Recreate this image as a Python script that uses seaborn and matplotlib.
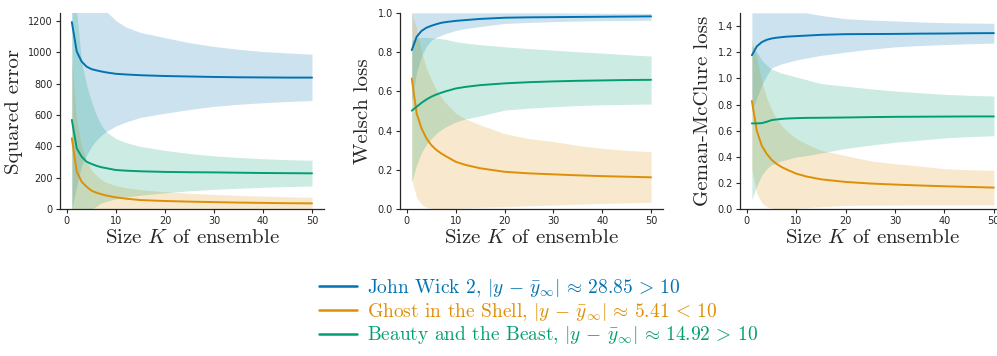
import numpy as np
import pandas as pd
import seaborn as sns
import matplotlib.pyplot as plt

K = [1, 2, 3, 4, 5, 6, 7, 8, 10, 12, 15, 20, 25, 30, 35, 40, 45, 50]

movies = ["John Wick 2", "Ghost in the Shell", "Beauty and the Beast"]
legend_labels = [
    r"John Wick 2, $|y\,-\,\bar{y}_\infty| \,\approx\, 28.85 \,>\, 10$",
    r"Ghost in the Shell, $|y\,-\,\bar{y}_\infty| \,\approx\, 5.41 \,<\, 10$",
    r"Beauty and the Beast, $|y\,-\,\bar{y}_\infty| \,\approx\, 14.92 \,>\, 10$",
]

# Squared error
sq_blue = [1191, 1004, 940, 908, 892, 884, 877, 871, 862, 858, 853, 848, 845, 842, 840, 839, 838, 838]
sq_blue_lo = [0, 150, 280, 345, 400, 440, 470, 494, 530, 555, 585, 611, 635, 655, 668, 678, 686, 692]
sq_blue_hi = [1300, 1300, 1300, 1300, 1300, 1300, 1300, 1260, 1200, 1160, 1125, 1092, 1060, 1036, 1018, 1004, 995, 987]
sq_orange = [452, 240, 176, 144, 119, 106, 96, 88, 76, 68, 59, 53, 49, 46, 43, 41, 39, 38]
sq_orange_lo = [0, 0, 0, 0, 0, 0, 0, 0, 0, 0, 0, 0, 0, 0, 1, 2, 2, 3]
sq_orange_hi = [950, 560, 400, 310, 250, 215, 190, 172, 150, 138, 125, 112, 102, 95, 89, 84, 80, 77]
sq_green = [569, 388, 335, 303, 289, 277, 268, 262, 250, 246, 242, 238, 236, 235, 233, 231, 230, 229]
sq_green_lo = [0, 0, 0, 0, 0, 20, 40, 50, 67, 78, 90, 105, 118, 127, 134, 140, 145, 148]
sq_green_hi = [1300, 1250, 940, 792, 685, 600, 537, 494, 450, 425, 400, 375, 355, 340, 330, 322, 316, 312]

# Welsch loss
we_blue = [0.81, 0.878, 0.908, 0.924, 0.934, 0.942, 0.949, 0.953, 0.959, 0.963, 0.969, 0.975, 0.977, 0.978, 0.979, 0.980, 0.981, 0.982]
we_blue_lo = [0.55, 0.70, 0.78, 0.83, 0.86, 0.875, 0.885, 0.895, 0.91, 0.92, 0.93, 0.946, 0.951, 0.955, 0.958, 0.96, 0.961, 0.962]
we_blue_hi = [1.0, 1.0, 1.0, 1.0, 1.0, 1.0, 1.0, 1.0, 1.0, 1.0, 1.0, 1.0, 1.0, 1.0, 0.999, 0.998, 0.998, 0.997]
we_orange = [0.666, 0.488, 0.412, 0.361, 0.327, 0.303, 0.285, 0.27, 0.242, 0.226, 0.209, 0.191, 0.183, 0.178, 0.173, 0.169, 0.166, 0.163]
we_orange_lo = [0.15, 0.06, 0.025, 0.01, 0.005, 0.003, 0.003, 0.004, 0.005, 0.007, 0.01, 0.013, 0.018, 0.022, 0.026, 0.03, 0.033, 0.036]
we_orange_hi = [1.0, 0.92, 0.80, 0.72, 0.66, 0.61, 0.57, 0.54, 0.49, 0.46, 0.43, 0.385, 0.36, 0.345, 0.325, 0.31, 0.30, 0.293]
we_green = [0.502, 0.522, 0.542, 0.559, 0.573, 0.584, 0.593, 0.601, 0.615, 0.623, 0.632, 0.641, 0.647, 0.651, 0.654, 0.656, 0.658, 0.659]
we_green_lo = [0.14, 0.225, 0.29, 0.33, 0.36, 0.385, 0.405, 0.42, 0.445, 0.46, 0.475, 0.505, 0.515, 0.522, 0.528, 0.532, 0.534, 0.536]
we_green_hi = [0.86, 0.87, 0.875, 0.875, 0.873, 0.871, 0.868, 0.865, 0.853, 0.846, 0.838, 0.827, 0.818, 0.81, 0.802, 0.795, 0.787, 0.78]

# Geman-McClure loss
gm_blue = [1.176, 1.244, 1.276, 1.294, 1.304, 1.31, 1.314, 1.318, 1.322, 1.326, 1.332, 1.337, 1.338, 1.339, 1.341, 1.342, 1.344, 1.345]
gm_blue_lo = [0.75, 0.85, 0.95, 1.02, 1.08, 1.095, 1.11, 1.12, 1.14, 1.155, 1.175, 1.2, 1.222, 1.24, 1.25, 1.258, 1.264, 1.269]
gm_blue_hi = [1.5, 1.5, 1.5, 1.5, 1.5, 1.5, 1.5, 1.5, 1.5, 1.5, 1.48, 1.455, 1.445, 1.438, 1.43, 1.425, 1.422, 1.42]
gm_orange = [0.827, 0.6, 0.486, 0.424, 0.378, 0.347, 0.323, 0.305, 0.272, 0.251, 0.229, 0.209, 0.197, 0.189, 0.182, 0.176, 0.171, 0.166]
gm_orange_lo = [0.3, 0.12, 0.05, 0.02, 0.008, 0.005, 0.005, 0.005, 0.008, 0.012, 0.02, 0.03, 0.032, 0.033, 0.034, 0.034, 0.035, 0.035]
gm_orange_hi = [1.3, 1.15, 0.98, 0.85, 0.76, 0.69, 0.64, 0.6, 0.54, 0.5, 0.45, 0.41, 0.37, 0.348, 0.33, 0.31, 0.302, 0.297]
gm_green = [0.656, 0.656, 0.658, 0.668, 0.681, 0.686, 0.69, 0.693, 0.696, 0.698, 0.699, 0.701, 0.704, 0.706, 0.707, 0.708, 0.709, 0.709]
gm_green_lo = [0.076, 0.18, 0.26, 0.31, 0.34, 0.355, 0.37, 0.38, 0.4, 0.41, 0.43, 0.465, 0.49, 0.512, 0.528, 0.545, 0.555, 0.562]
gm_green_hi = [1.25, 1.2, 1.14, 1.1, 1.07, 1.055, 1.04, 1.03, 1.01, 0.99, 0.96, 0.94, 0.92, 0.903, 0.89, 0.878, 0.87, 0.865]

panels = [
    ("Squared error", (0, 1250),
     [(sq_blue, sq_blue_lo, sq_blue_hi), (sq_orange, sq_orange_lo, sq_orange_hi), (sq_green, sq_green_lo, sq_green_hi)]),
    ("Welsch loss", (0, 1.0),
     [(we_blue, we_blue_lo, we_blue_hi), (we_orange, we_orange_lo, we_orange_hi), (we_green, we_green_lo, we_green_hi)]),
    ("Geman-McClure loss", (0, 1.5),
     [(gm_blue, gm_blue_lo, gm_blue_hi), (gm_orange, gm_orange_lo, gm_orange_hi), (gm_green, gm_green_lo, gm_green_hi)]),
]

sns.set_theme(style="ticks")
plt.rcParams["mathtext.fontset"] = "cm"
palette = sns.color_palette("colorblind", 3)
serif = "cmr10"

fig = plt.figure(figsize=(9.97, 3.56), dpi=100)
lefts = [0.060, 0.401, 0.742]
widths = [0.265, 0.264, 0.267]

for (ylabel, ylim, series), left, width in zip(panels, lefts, widths):
    ax = fig.add_axes([left, 0.412, width, 0.552])
    rows = []
    for name, (mean, lo, hi) in zip(movies, series):
        rows.append(pd.DataFrame({"K": K, "value": mean, "movie": name}))
    df = pd.concat(rows, ignore_index=True)
    sns.lineplot(data=df, x="K", y="value", hue="movie", hue_order=movies,
                 palette=palette, linewidth=1.4, legend=False, ax=ax)
    for color, (mean, lo, hi) in zip(palette, series):
        ax.fill_between(K, lo, hi, color=color, alpha=0.2, linewidth=0)
    ax.set_ylim(*ylim)
    ax.set_xticks([0, 10, 20, 30, 40, 50])
    ax.set_xlabel(r"Size $K$ of ensemble", fontsize=15, fontfamily=serif, labelpad=2)
    ax.set_ylabel(ylabel, fontsize=15, fontfamily=serif, labelpad=4)
    ax.tick_params(labelsize=7, length=3, width=0.8, pad=2)
    for sp in ax.spines.values():
        sp.set_linewidth(0.9)
    sns.despine(ax=ax)

handles = [plt.Line2D([], [], color=c, linewidth=1.8) for c in palette]
leg = fig.legend(handles, legend_labels, loc="center", bbox_to_anchor=(0.54, 0.124),
                 frameon=False, prop={"family": serif, "size": 14},
                 handlelength=2.0, handletextpad=0.5, labelspacing=0.08)
for text, c in zip(leg.get_texts(), palette):
    text.set_color(c)

fig.savefig("out.png", dpi=100)
